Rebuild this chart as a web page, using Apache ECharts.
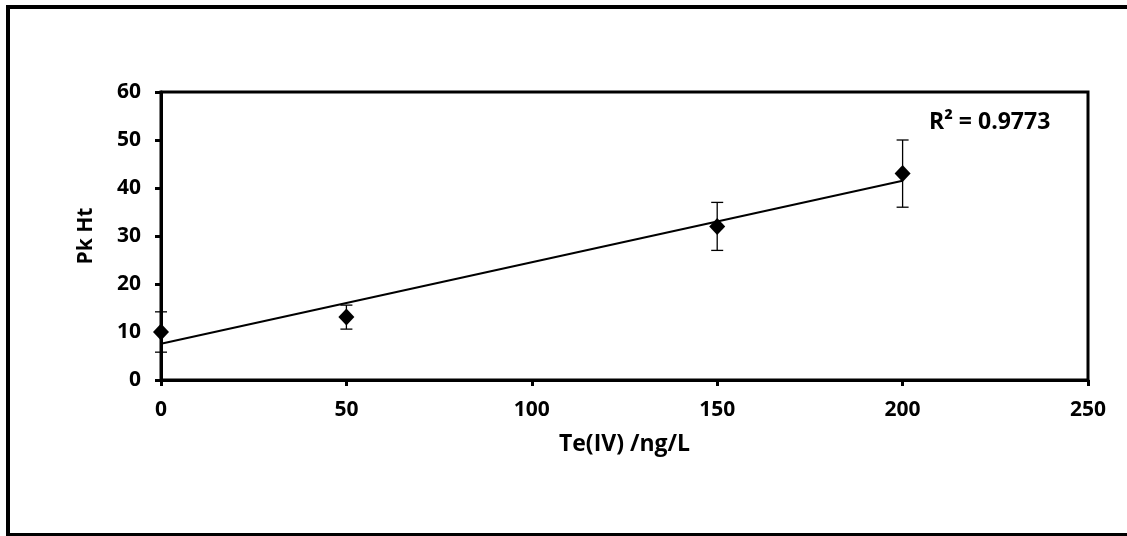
<!DOCTYPE html>
<html>
<head>
<meta charset="utf-8">
<script src="https://cdn.jsdelivr.net/npm/echarts@6/dist/echarts.min.js"></script>
<style>
  html, body { margin: 0; padding: 0; background: #fff; }
  #chart { width: 1127px; height: 536px; }
</style>
</head>
<body>
<div id="chart"></div>
<script>
// concentration (ng/L) and peak heights with error
const xVals = [0, 50, 150, 200];
const yVals = [10, 13.1, 32, 43];
const yErr = [4.2, 2.5, 5, 7];
const rSquaredText = "R² = 0.9773";

// least squares trendline from the points
const n = xVals.length;
const mx = xVals.reduce((a, b) => a + b, 0) / n;
const my = yVals.reduce((a, b) => a + b, 0) / n;
let sxy = 0, sxx = 0;
for (let i = 0; i < n; i++) {
  sxy += (xVals[i] - mx) * (yVals[i] - my);
  sxx += (xVals[i] - mx) * (xVals[i] - mx);
}
const slope = sxy / sxx;
const intercept = my - slope * mx;
const trendX = [xVals[0], xVals[n - 1]];

const font = "Open Sans";
const txt = { fontFamily: font, fontWeight: "bold", fontSize: 21, color: "#000" };
const chart = echarts.init(document.getElementById("chart"));

chart.setOption({
  animation: false,
  backgroundColor: "#fff",
  grid: {
    left: 161, right: 39, top: 92, bottom: 156,
    show: true, borderColor: "#000", borderWidth: 3
  },
  xAxis: {
    type: "value", min: 0, max: 250, interval: 50,
    name: "Te(IV) /ng/L", nameLocation: "middle", nameGap: 53,
    nameTextStyle: Object.assign({}, txt, { fontSize: 23 }),
    axisLine: { lineStyle: { color: "#000", width: 3 } },
    axisTick: { show: true, inside: false, length: 6, lineStyle: { color: "#000", width: 3 } },
    axisLabel: Object.assign({ margin: 20 }, txt),
    splitLine: { show: false }
  },
  yAxis: {
    type: "value", min: 0, max: 60, interval: 10,
    name: "Pk Ht", nameLocation: "middle", nameGap: 64,
    nameTextStyle: txt,
    axisLine: { show: true, lineStyle: { color: "#000", width: 3 } },
    axisTick: { show: true, inside: false, length: 6, lineStyle: { color: "#000", width: 3 } },
    axisLabel: Object.assign({ margin: 20 }, txt),
    splitLine: { show: false }
  },
  graphic: [
    {
      type: "rect", silent: true,
      shape: { x: 8, y: 7, width: 1130, height: 528 },
      style: { fill: null, stroke: "#000", lineWidth: 4 }
    },
    {
      type: "text", left: 929, top: 111,
      style: { text: rSquaredText, fontFamily: font, fontWeight: "bold", fontSize: 23, fill: "#000" }
    }
  ],
  series: [
    {
      name: "trend", type: "line", silent: true, symbol: "none",
      data: trendX.map(x => [x, intercept + slope * x]),
      lineStyle: { color: "#000", width: 2 }
    },
    {
      name: "errors", type: "custom", clip: false, silent: true,
      data: xVals.map((x, i) => [x, yVals[i] - yErr[i], yVals[i] + yErr[i]]),
      renderItem: (params, api) => {
        const top = api.coord([api.value(0), api.value(2)]);
        const bot = api.coord([api.value(0), api.value(1)]);
        const hw = 6;
        const st = { stroke: "#000", lineWidth: 1.3 };
        return {
          type: "group",
          children: [
            { type: "line", shape: { x1: top[0], y1: top[1], x2: bot[0], y2: bot[1] }, style: st },
            { type: "line", shape: { x1: top[0] - hw, y1: top[1], x2: top[0] + hw, y2: top[1] }, style: st },
            { type: "line", shape: { x1: bot[0] - hw, y1: bot[1], x2: bot[0] + hw, y2: bot[1] }, style: st }
          ]
        };
      },
      z: 3
    },
    {
      name: "Pk Ht", type: "scatter", clip: false,
      symbol: "diamond", symbolSize: [16, 17],
      data: xVals.map((x, i) => [x, yVals[i]]),
      itemStyle: { color: "#000", opacity: 1 },
      z: 4
    }
  ]
});
</script>
</body>
</html>
